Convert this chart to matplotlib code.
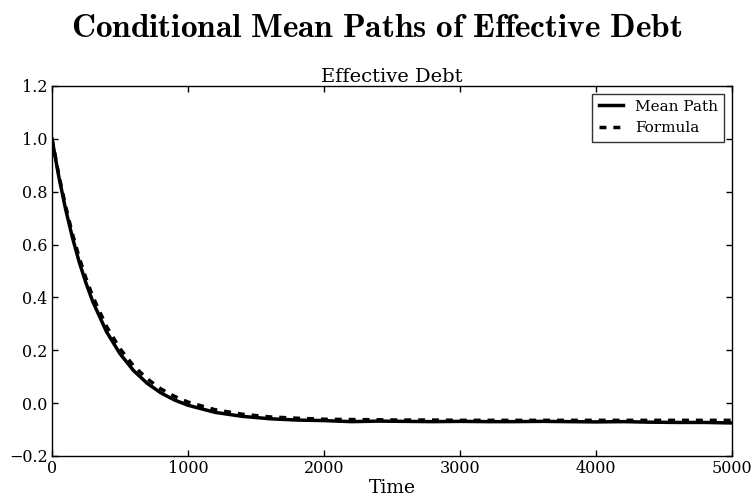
import matplotlib
matplotlib.use("Agg")
import matplotlib.pyplot as plt

plt.rcParams['font.family'] = ['DejaVu Serif']
plt.rcParams['mathtext.fontset'] = 'cm'
plt.rcParams['lines.scale_dashes'] = False

time = [0, 50, 100, 150, 200, 250, 300, 400, 500, 600, 700, 800, 900, 1000,
        1200, 1400, 1600, 1800, 2000, 2200, 2400, 2600, 2800, 3000, 3200,
        3400, 3600, 3800, 4000, 4200, 4400, 4600, 4800, 5000]
mean_path = [1.0, 0.857, 0.734, 0.627, 0.534, 0.454, 0.384, 0.271, 0.187,
             0.123, 0.075, 0.039, 0.012, -0.008, -0.035, -0.050, -0.059,
             -0.064, -0.066, -0.070, -0.068, -0.069, -0.070, -0.069, -0.070,
             -0.070, -0.069, -0.070, -0.071, -0.070, -0.072, -0.073, -0.073,
             -0.075]
formula = [1.0, 0.864, 0.745, 0.641, 0.551, 0.472, 0.403, 0.291, 0.206,
           0.141, 0.092, 0.054, 0.026, 0.004, -0.025, -0.042, -0.052,
           -0.057, -0.061, -0.062, -0.063, -0.064, -0.064, -0.065, -0.065,
           -0.065, -0.065, -0.065, -0.065, -0.065, -0.065, -0.065, -0.065,
           -0.065]

fig = plt.figure(figsize=(7.53, 5.04), dpi=100)
ax = fig.add_axes([52/753, 1 - 456/504, 680/753, 370/504])

ax.plot(time, mean_path, color='black', lw=2.5, label='Mean Path')
ax.plot(time, formula, color='black', lw=2.5, ls='--', dashes=(5, 5),
        label='Formula')

ax.set_xlim(0, 5000)
ax.set_ylim(-0.2, 1.2)
ax.set_xticks([0, 1000, 2000, 3000, 4000, 5000])
ax.set_yticks([-0.2, 0.0, 0.2, 0.4, 0.6, 0.8, 1.0, 1.2])
ax.tick_params(direction='in', top=True, right=True, labelsize=11.5,
               length=4, width=1, pad=3)
for s in ax.spines.values():
    s.set_linewidth(1)

ax.set_title('Effective Debt', fontsize=14, pad=3)
ax.set_xlabel('Time', fontsize=13.5, labelpad=1)

leg = ax.legend(loc='upper right', fontsize=11, frameon=True, fancybox=False,
                edgecolor='black', handlelength=1.6, borderaxespad=0.5)
leg.get_frame().set_linewidth(1)

fig.text(0.5, 1 - 28/504, r'$\mathbf{Conditional\ Mean\ Paths\ of\ Effective\ Debt}$',
         ha='center', va='center', fontsize=24)

fig.savefig('out.png', dpi=100)
